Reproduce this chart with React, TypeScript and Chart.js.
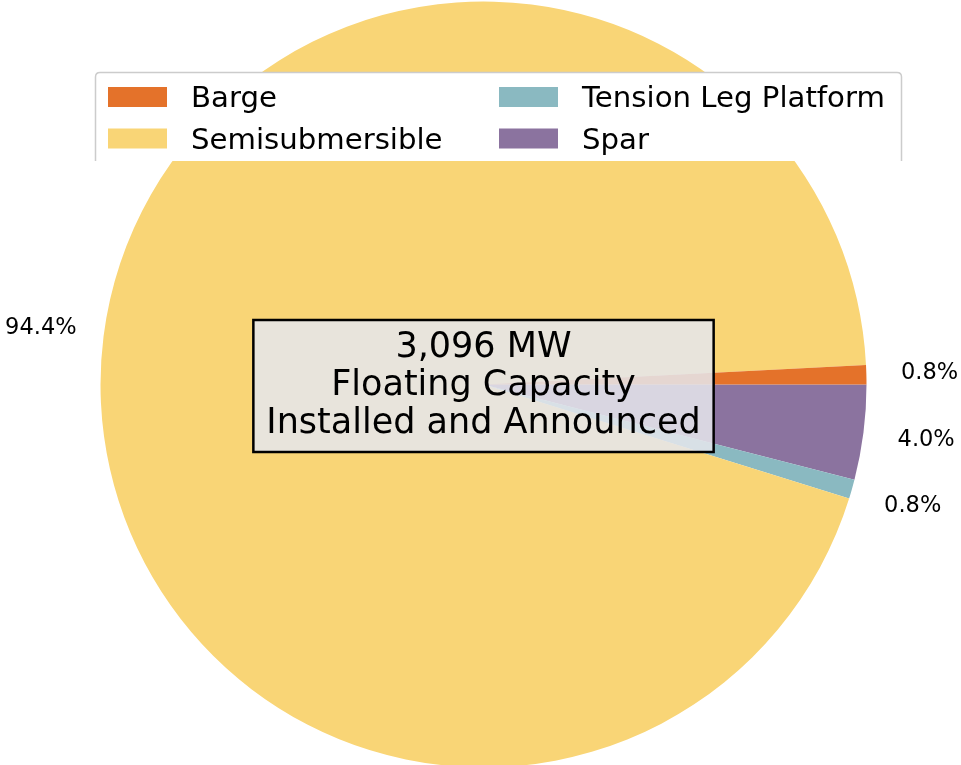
import React, { useEffect, useRef } from 'react';
import { Chart, registerables } from 'chart.js';

Chart.register(...registerables);

// ---- data ----
const categories = ['Barge', 'Semisubmersible', 'Tension Leg Platform', 'Spar'];
const capacityMW = [25, 2922, 25, 124];
const sliceColors = ['#E4722A', '#F9D576', '#8AB9C1', '#8B739F'];
const centerLines = ['3,096 MW', 'Floating Capacity', 'Installed and Announced'];

const FONT = '"DejaVu Sans", Verdana, sans-serif';

// Chart.js draws clockwise; reverse order to emulate counter-clockwise pie starting at 3 o'clock
const drawOrder = [3, 2, 1, 0];

const pctLabelPlugin = {
  id: 'pctLabels',
  afterDatasetsDraw(chart: any) {
    const ctx = chart.ctx;
    const meta = chart.getDatasetMeta(0);
    const values: number[] = chart.data.datasets[0].data;
    const total = values.reduce((a, b) => a + b, 0);
    ctx.save();
    ctx.font = `22.5px ${FONT}`;
    ctx.fillStyle = '#000';
    ctx.textAlign = 'center';
    ctx.textBaseline = 'middle';
    meta.data.forEach((arc: any, i: number) => {
      const p = arc.getProps(['x', 'y', 'startAngle', 'endAngle', 'outerRadius'], true);
      const mid = (p.startAngle + p.endAngle) / 2;
      const d = p.outerRadius * 1.165;
      const tx = p.x + Math.cos(mid) * d;
      const ty = p.y + Math.sin(mid) * d;
      ctx.fillText(((values[i] / total) * 100).toFixed(1) + '%', tx, ty);
    });
    ctx.restore();
  },
};

const centerBoxPlugin = {
  id: 'centerBox',
  afterDatasetsDraw(chart: any) {
    const ctx = chart.ctx;
    const meta = chart.getDatasetMeta(0);
    const cx = meta.data[0].x;
    const cy = meta.data[0].y;
    ctx.save();
    ctx.font = `35px ${FONT}`;
    const widths = centerLines.map((l) => ctx.measureText(l).width);
    const w = Math.max(...widths) + 26;
    const lineH = 38;
    const h = 132;
    const x0 = cx - w / 2;
    const y0 = cy - 64.5;
    ctx.fillStyle = 'rgba(229,231,236,0.86)';
    ctx.fillRect(x0, y0, w, h);
    ctx.lineWidth = 2.5;
    ctx.strokeStyle = '#000';
    ctx.strokeRect(x0, y0, w, h);
    ctx.fillStyle = '#000';
    ctx.textAlign = 'center';
    ctx.textBaseline = 'alphabetic';
    centerLines.forEach((l, i) => {
      ctx.fillText(l, cx, y0 + 37 + i * lineH);
    });
    ctx.restore();
  },
};

const legendPlugin = {
  id: 'customLegend',
  afterDraw(chart: any) {
    const ctx = chart.ctx;
    const x0 = 95;
    const y0 = 72;
    const x1 = 902;
    const y1 = 161;
    const rad = 5;
    ctx.save();
    // box (bottom clipped, no bottom edge)
    ctx.beginPath();
    ctx.moveTo(x0, y1);
    ctx.lineTo(x0, y0 + rad);
    ctx.quadraticCurveTo(x0, y0, x0 + rad, y0);
    ctx.lineTo(x1 - rad, y0);
    ctx.quadraticCurveTo(x1, y0, x1, y0 + rad);
    ctx.lineTo(x1, y1);
    ctx.closePath();
    ctx.fillStyle = '#ffffff';
    ctx.fill();
    ctx.beginPath();
    ctx.moveTo(x0 + 0.5, y1);
    ctx.lineTo(x0 + 0.5, y0 + rad);
    ctx.quadraticCurveTo(x0 + 0.5, y0 + 0.5, x0 + rad, y0 + 0.5);
    ctx.lineTo(x1 - rad, y0 + 0.5);
    ctx.quadraticCurveTo(x1 - 0.5, y0 + 0.5, x1 - 0.5, y0 + rad);
    ctx.lineTo(x1 - 0.5, y1);
    ctx.strokeStyle = '#cccccc';
    ctx.lineWidth = 1.5;
    ctx.stroke();

    ctx.font = `29.2px ${FONT}`;
    ctx.textAlign = 'left';
    ctx.textBaseline = 'alphabetic';
    const colX = [108, 499];
    const rowY = [87, 128.5];
    categories.forEach((name, i) => {
      const col = Math.floor(i / 2);
      const row = i % 2;
      const px = colX[col];
      const py = rowY[row];
      ctx.fillStyle = sliceColors[i];
      ctx.fillRect(px, py, 59, 20);
      ctx.fillStyle = '#000';
      ctx.fillText(name, px + 83, py + 20);
    });
    ctx.restore();
  },
};

export default function App() {
  const canvasRef = useRef<HTMLCanvasElement | null>(null);

  useEffect(() => {
    document.body.style.margin = '0';
    const canvas = canvasRef.current;
    if (!canvas) return;
    const chart = new Chart(canvas, {
      type: 'pie',
      data: {
        labels: drawOrder.map((i) => categories[i]),
        datasets: [
          {
            data: drawOrder.map((i) => capacityMW[i]),
            backgroundColor: drawOrder.map((i) => sliceColors[i]),
            borderWidth: 0,
          },
        ],
      },
      options: {
        responsive: false,
        animation: false,
        rotation: 90,
        layout: { padding: { left: 100.5, right: 94.5, top: 1.5, bottom: 1.5 } },
        plugins: {
          legend: { display: false },
          tooltip: { enabled: false },
        },
      },
      plugins: [pctLabelPlugin, centerBoxPlugin, legendPlugin],
    });
    return () => chart.destroy();
  }, []);

  return (
    <div
      style={{
        position: 'fixed',
        left: 0,
        top: 0,
        width: 961,
        height: 765,
        overflow: 'hidden',
        background: '#ffffff',
      }}
    >
      <canvas ref={canvasRef} width={961} height={769} style={{ display: 'block' }} />
    </div>
  );
}
